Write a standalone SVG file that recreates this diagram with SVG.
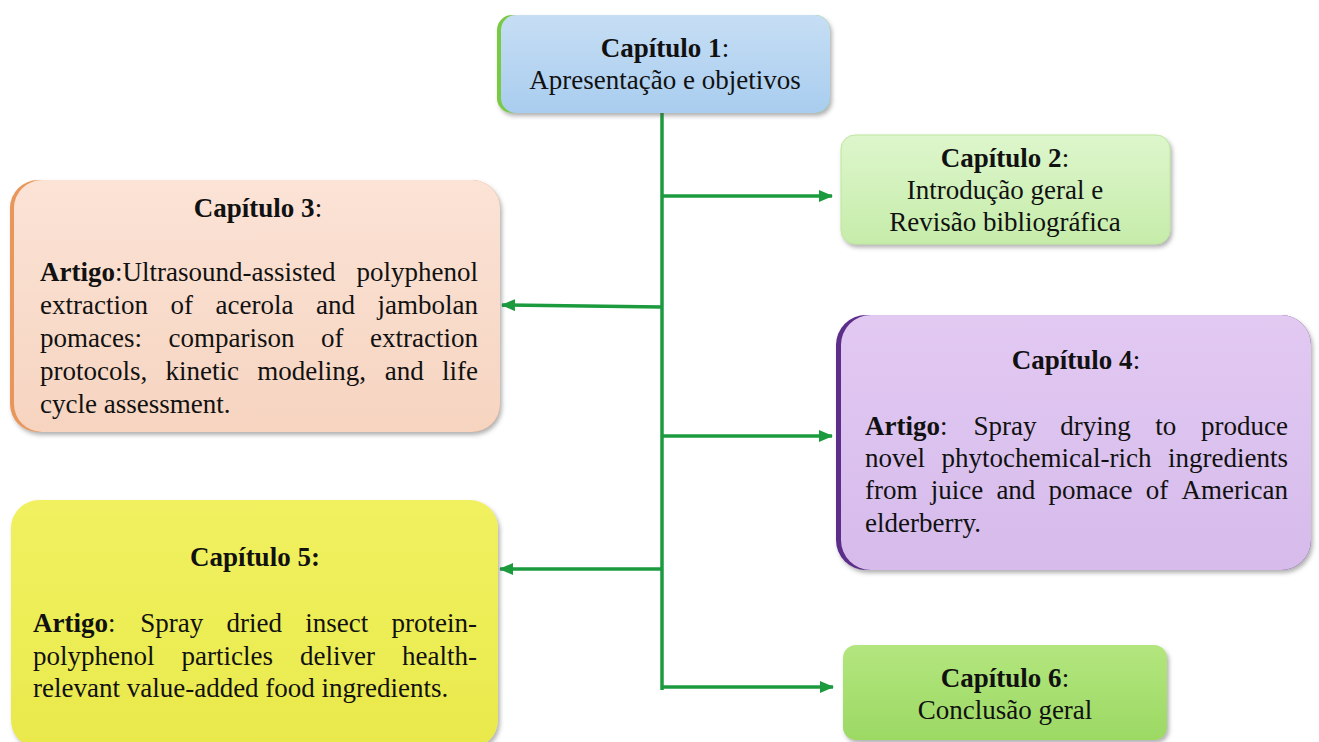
<svg xmlns="http://www.w3.org/2000/svg" width="1319" height="742" viewBox="0 0 1319 742">
<style>
text{font-family:"Liberation Serif","Times New Roman",serif;font-size:27px;fill:#111;}
.b{font-weight:700;}
.c{text-anchor:middle;}
.conn{stroke:#1b9a3e;stroke-width:3.5;fill:none;}
.box{filter:url(#sh);}
</style>
<defs>
<filter id="sh" x="-10%" y="-10%" width="120%" height="125%">
<feDropShadow dx="2" dy="3" stdDeviation="2" flood-color="#555" flood-opacity="0.45"/>
</filter>
<marker id="ah" markerWidth="14" markerHeight="12" refX="13" refY="6" orient="auto" markerUnits="userSpaceOnUse">
<path d="M0,0 L14,6 L0,12 z" fill="#1b9a3e"/>
</marker>
<linearGradient id="g1" x1="0" y1="0" x2="0" y2="1"><stop offset="0" stop-color="#c6def4"/><stop offset="1" stop-color="#a9cdef"/></linearGradient>
<linearGradient id="g2" x1="0" y1="0" x2="0" y2="1"><stop offset="0" stop-color="#ddf6cc"/><stop offset="1" stop-color="#c6ecaa"/></linearGradient>
<linearGradient id="g3" x1="0" y1="0" x2="0" y2="1"><stop offset="0" stop-color="#fbe3d6"/><stop offset="1" stop-color="#f6d4c0"/></linearGradient>
<linearGradient id="g4" x1="0" y1="0" x2="0" y2="1"><stop offset="0" stop-color="#e2c9f2"/><stop offset="1" stop-color="#d6bbeb"/></linearGradient>
<linearGradient id="g5" x1="0" y1="0" x2="0" y2="1"><stop offset="0" stop-color="#f1f161"/><stop offset="1" stop-color="#e9e94c"/></linearGradient>
<linearGradient id="g6" x1="0" y1="0" x2="0" y2="1"><stop offset="0" stop-color="#b3e67e"/><stop offset="1" stop-color="#9cd964"/></linearGradient>
</defs>

<g id="connectors">
<path class="conn" d="M662,113 V690"/>
<path class="conn" d="M662,196 H832" marker-end="url(#ah)"/>
<path class="conn" d="M662,307 L502,305" marker-end="url(#ah)"/>
<path class="conn" d="M662,436 H832" marker-end="url(#ah)"/>
<path class="conn" d="M662,569 H500" marker-end="url(#ah)"/>
<path class="conn" d="M662,687 H833" marker-end="url(#ah)"/>
</g>

<g id="cap1">
<rect class="box" x="497" y="15" width="333" height="98" rx="15" fill="#7ac943"/>
<rect x="501" y="15" width="329" height="98" rx="15" fill="url(#g1)"/>
<text class="c" x="665" y="57"><tspan class="b">Capítulo 1</tspan>:</text>
<text class="c" x="665" y="89">Apresentação e objetivos</text>
</g>

<g id="cap2">
<rect class="box" x="841" y="135" width="329" height="109" rx="14" fill="url(#g2)" stroke="#bfe59f" stroke-width="1"/>
<text class="c" x="1005" y="167"><tspan class="b">Capítulo 2</tspan>:</text>
<text class="c" x="1005" y="199">Introdução geral e</text>
<text class="c" x="1005" y="231">Revisão bibliográfica</text>
</g>

<g id="cap3">
<rect class="box" x="10" y="180" width="490" height="252" rx="28" fill="#e8965a"/>
<rect x="14" y="180" width="486" height="252" rx="28" fill="url(#g3)"/>
<text class="c" x="258" y="217"><tspan class="b">Capítulo 3</tspan>:</text>
<text y="281"><tspan x="40" class="b">Artigo</tspan><tspan>:Ultrasound-assisted</tspan><tspan x="478" text-anchor="end">polyphenol</tspan></text>
<text y="314"><tspan x="40">extraction</tspan><tspan x="170.5">of</tspan><tspan x="215.5">acerola</tspan><tspan x="316">and</tspan><tspan x="478" text-anchor="end">jambolan</tspan></text>
<text y="347"><tspan x="40">pomaces:</tspan><tspan x="168.5">comparison</tspan><tspan x="321">of</tspan><tspan x="478" text-anchor="end">extraction</tspan></text>
<text y="380"><tspan x="40">protocols,</tspan><tspan x="165.4">kinetic</tspan><tspan x="257.3">modeling,</tspan><tspan x="384.7">and</tspan><tspan x="478" text-anchor="end">life</tspan></text>
<text y="413"><tspan x="40">cycle assessment.</tspan></text>
</g>

<g id="cap4">
<rect class="box" x="836" y="315" width="475" height="255" rx="30" fill="#5b2d8a"/>
<rect x="841" y="315" width="470" height="255" rx="30" fill="url(#g4)"/>
<text class="c" x="1076" y="369"><tspan class="b">Capítulo 4</tspan>:</text>
<text y="435"><tspan x="865" class="b">Artigo</tspan><tspan>:</tspan><tspan x="973.4">Spray</tspan><tspan x="1060.3">drying</tspan><tspan x="1155.2">to</tspan><tspan x="1288" text-anchor="end">produce</tspan></text>
<text y="467"><tspan x="865">novel</tspan><tspan x="941.5">phytochemical-rich</tspan><tspan x="1288" text-anchor="end">ingredients</tspan></text>
<text y="499"><tspan x="865">from</tspan><tspan x="930.7">juice</tspan><tspan x="996.4">and</tspan><tspan x="1048.6">pomace</tspan><tspan x="1145.8">of</tspan><tspan x="1288" text-anchor="end">American</tspan></text>
<text y="532"><tspan x="865">elderberry.</tspan></text>
</g>

<g id="cap5">
<rect class="box" x="11" y="500" width="487" height="248" rx="28" fill="url(#g5)"/>
<text class="c b" x="255" y="566">Capítulo 5:</text>
<text y="632"><tspan x="33" class="b">Artigo</tspan><tspan>:</tspan><tspan x="140.3">Spray</tspan><tspan x="226.5">dried</tspan><tspan x="305.3">insect</tspan><tspan x="477" text-anchor="end">protein-</tspan></text>
<text y="665"><tspan x="33">polyphenol</tspan><tspan x="181.5">particles</tspan><tspan x="300">deliver</tspan><tspan x="477" text-anchor="end">health-</tspan></text>
<text y="697"><tspan x="33">relevant value-added food ingredients.</tspan></text>
</g>

<g id="cap6">
<rect class="box" x="843" y="645" width="324" height="95" rx="13" fill="url(#g6)"/>
<text class="c" x="1005" y="687"><tspan class="b">Capítulo 6</tspan>:</text>
<text class="c" x="1005" y="719">Conclusão geral</text>
</g>
</svg>
